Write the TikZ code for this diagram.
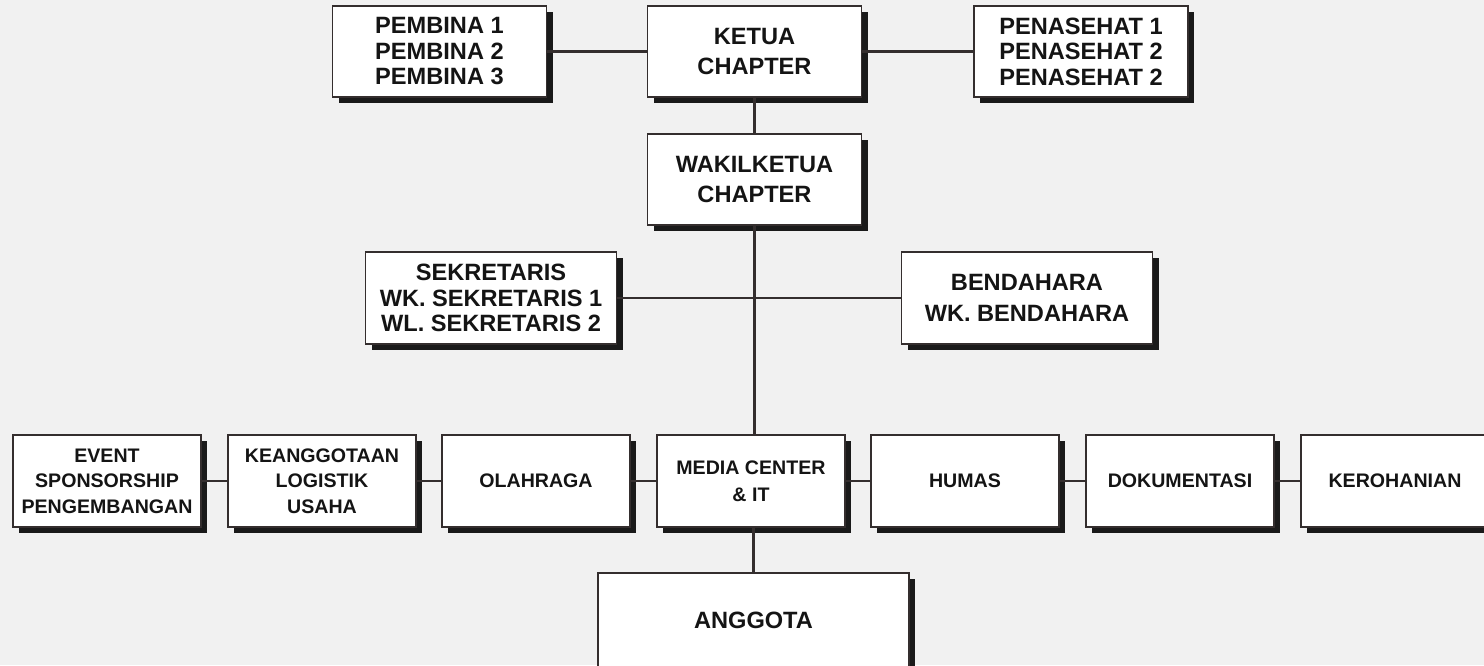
\documentclass[tikz,border=0pt]{standalone}
\usepackage{fontspec}
\setmainfont{Liberation Sans}
\usetikzlibrary{shadows}
\definecolor{bg}{HTML}{F1F1F1}
\definecolor{ink}{HTML}{141414}
\definecolor{edge}{HTML}{342E2E}
\definecolor{shade}{HTML}{1A1A1A}
\tikzset{
  box/.style={draw=edge, line width=1.5pt, fill=white, text=ink, align=center,
    inner sep=0pt, outer sep=0pt,
    drop shadow={shadow xshift=6pt, shadow yshift=-6pt, opacity=1, fill=shade}},
  topbox/.style={box, minimum width=214pt, minimum height=91pt,
    font=\fontsize{23.6}{25.5}\selectfont\bfseries},
  twoline/.style={font=\fontsize{23.6}{30.5}\selectfont\bfseries},
  midbox/.style={box, minimum width=251pt, minimum height=92pt,
    font=\fontsize{23.6}{25.8}\selectfont\bfseries},
  lowbox/.style={box, minimum width=188pt, minimum height=92pt,
    font=\fontsize{19.6}{25.5}\selectfont\bfseries},
  link/.style={draw=edge, line width=2.4pt}
}
\begin{document}
\begin{tikzpicture}[x=1pt,y=-1pt]
\useasboundingbox (0,0) rectangle (1484,665);
\fill[bg] (0,0) rectangle (1484,665);

\node[topbox] (pembina) at (439.5,51.5) {PEMBINA 1\\PEMBINA 2\\PEMBINA 3};
\node[topbox, twoline] (ketua) at (754.5,51.5) {KETUA\\CHAPTER};
\node[topbox] (penasehat) at (1081,51.5) {PENASEHAT 1\\PENASEHAT 2\\PENASEHAT 2};
\node[topbox, twoline] (wakil) at (754.5,179.5) {WAKILKETUA\\CHAPTER};

\node[midbox] (sek) at (491,298) {SEKRETARIS\\WK. SEKRETARIS 1\\WL. SEKRETARIS 2};
\node[midbox, font=\fontsize{23.6}{31.5}\selectfont\bfseries] (bend) at (1027,298) {BENDAHARA\\WK. BENDAHARA};

\node[lowbox] (event) at (107,481) {EVENT\\SPONSORSHIP\\PENGEMBANGAN};
\node[lowbox] (keang) at (322,481) {KEANGGOTAAN\\LOGISTIK\\USAHA};
\node[lowbox] (olah) at (536,481) {OLAHRAGA};
\node[lowbox, font=\fontsize{19.6}{26.5}\selectfont\bfseries] (media) at (751,481) {MEDIA CENTER\\\&~IT};
\node[lowbox] (humas) at (965,481) {HUMAS};
\node[lowbox] (doku) at (1180,481) {DOKUMENTASI};
\node[lowbox] (kero) at (1395,481) {KEROHANIAN};

\node[box, minimum width=311pt, minimum height=94pt,
  font=\fontsize{23.6}{26}\selectfont\bfseries] (anggota) at (753.5,620) {ANGGOTA};

\draw[link] (pembina) -- (ketua);
\draw[link] (ketua) -- (penasehat);
\draw[link] (ketua) -- (wakil);
\draw[link] (wakil.south) -- (wakil.south |- media.north);
\draw[link] (sek) -- (bend);
\draw[link] (event) -- (keang);
\draw[link] (keang) -- (olah);
\draw[link] (olah) -- (media);
\draw[link] (media) -- (humas);
\draw[link] (humas) -- (doku);
\draw[link] (doku) -- (kero);
\draw[link] (media.south -| anggota.north) -- (anggota.north);
\end{tikzpicture}
\end{document}
